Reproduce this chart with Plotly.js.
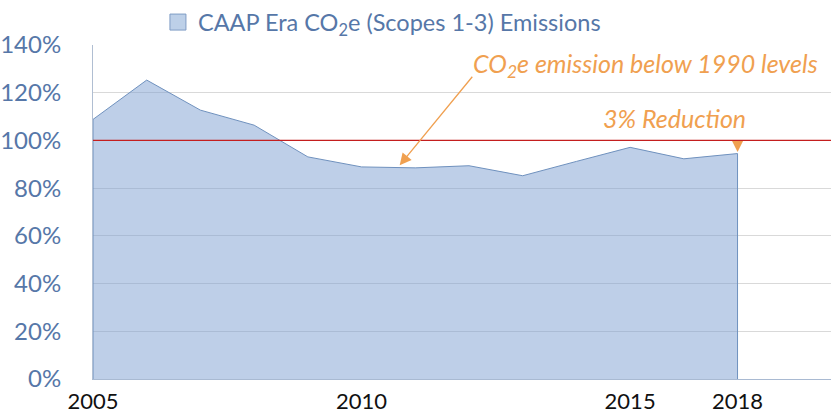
<!DOCTYPE html>
<html>
<head>
<meta charset="utf-8">
<script src="https://cdn.plot.ly/plotly-3.0.1.min.js"></script>
<style>html,body{margin:0;padding:0;background:#fff;}#chart{width:831px;height:415px;}</style>
</head>
<body>
<div id="chart"></div>
<script>
// Data
const years = ['2005','2006','2007','2008','2009','2010','2011','2012','2013','2014','2015','2016','2018'];
const emissions = [108.8, 125.3, 112.7, 106.4, 93.1, 88.9, 88.5, 89.4, 85.2, 91.2, 97.1, 92.3, 94.5];
const baseline1990 = 100;
const xTickLabels = ['2005','2010','2015','2018'];
const yTickVals = [0, 20, 40, 60, 80, 100, 120, 140];
const seriesName = 'CAAP Era CO<sub>2</sub>e (Scopes 1-3) Emissions';
const note1 = '<i>CO<sub>2</sub>e emission below 1990 levels</i>';
const note2 = '<i>3% Reduction</i>';
const arrowYearIdx = 5.71; // arrow tip position between 2010 and 2011

const FONT = 'Lato, "Open Sans", sans-serif';
const ORANGE = '#F0A050';
const BLUE_TXT = '#5677A8';

// closed polygon built from data arrays
const polyX = [years[0]].concat(years, [years[years.length-1]]);
const polyY = [0].concat(emissions, [0]);
const lastIdx = years.length - 1;

const traces = [
  {
    x: polyX, y: polyY, type: 'scatter', mode: 'lines', fill: 'toself',
    fillcolor: 'rgba(125,160,210,0.5)',
    line: {color: '#6F91BE', width: 1},
    showlegend: false, hoverinfo: 'skip'
  },
  {
    x: [null], y: [null], type: 'scatter', mode: 'markers', name: seriesName,
    marker: {symbol: 'square', size: 17, color: '#BDD0E8', line: {color: '#7F9CC4', width: 1}},
    showlegend: true, hoverinfo: 'skip'
  }
];

const layout = {
  width: 831, height: 415,
  margin: {l: 93, r: 0, t: 45, b: 36},
  paper_bgcolor: '#fff', plot_bgcolor: '#fff',
  font: {family: FONT},
  showlegend: true,
  legend: {
    orientation: 'h', x: 0.088, xanchor: 'left', y: 1.068, yanchor: 'middle',
    font: {family: FONT, size: 23.5, color: BLUE_TXT}, bgcolor: 'rgba(0,0,0,0)'
  },
  xaxis: {
    type: 'category', range: [0, 13.74],
    tickmode: 'array', tickvals: xTickLabels, ticktext: xTickLabels,
    showgrid: false, zeroline: false,
    showline: true, linecolor: '#A9BAD2', linewidth: 1,
    ticks: '', ticklabelstandoff: 3,
    tickfont: {family: FONT, size: 22, color: '#111'}
  },
  yaxis: {
    range: [0, 140], tickmode: 'array', tickvals: yTickVals,
    ticktext: yTickVals.map(v => v + '%'),
    showgrid: true, gridcolor: '#D9D9D9', gridwidth: 1,
    zeroline: false, showline: true, linecolor: '#B0BED2', linewidth: 1,
    ticks: '', ticklabelstandoff: 26,
    tickfont: {family: FONT, size: 24, color: BLUE_TXT}
  },
  shapes: [
    {type: 'line', xref: 'paper', x0: 0, x1: 1, yref: 'y', y0: baseline1990, y1: baseline1990,
     line: {color: '#C41E1E', width: 1.2}, layer: 'above'}
  ],
  annotations: [
    {text: note1, xref: 'paper', x: 0.748, yref: 'y', y: 131.5, showarrow: false,
     font: {family: FONT, size: 25, color: ORANGE}, xanchor: 'center', yanchor: 'middle'},
    {text: '', xref: 'x', x: arrowYearIdx, yref: 'y', y: 89.6, showarrow: true,
     ax: 73, ay: -89, axref: 'pixel', ayref: 'pixel', font: {size: 1}, borderpad: 0,
     arrowhead: 2, arrowsize: 1.8, arrowwidth: 1.3, arrowcolor: ORANGE, standoff: 0},
    {text: note2, xref: 'paper', x: 0.788, yref: 'y', y: 109.3, showarrow: false,
     font: {family: FONT, size: 25, color: ORANGE}, xanchor: 'center', yanchor: 'middle'},
    {text: '', xref: 'x', x: lastIdx, yref: 'y', y: emissions[lastIdx] + 0.7,
     showarrow: true, axref: 'x', ax: lastIdx, ayref: 'y', ay: baseline1990 - 0.3,
     font: {size: 1}, borderpad: 0,
     arrowhead: 2, arrowsize: 2.2, arrowwidth: 1, arrowcolor: ORANGE, standoff: 0}
  ]
};

Plotly.newPlot('chart', traces, layout, {displayModeBar: false, staticPlot: true});
</script>
</body>
</html>
